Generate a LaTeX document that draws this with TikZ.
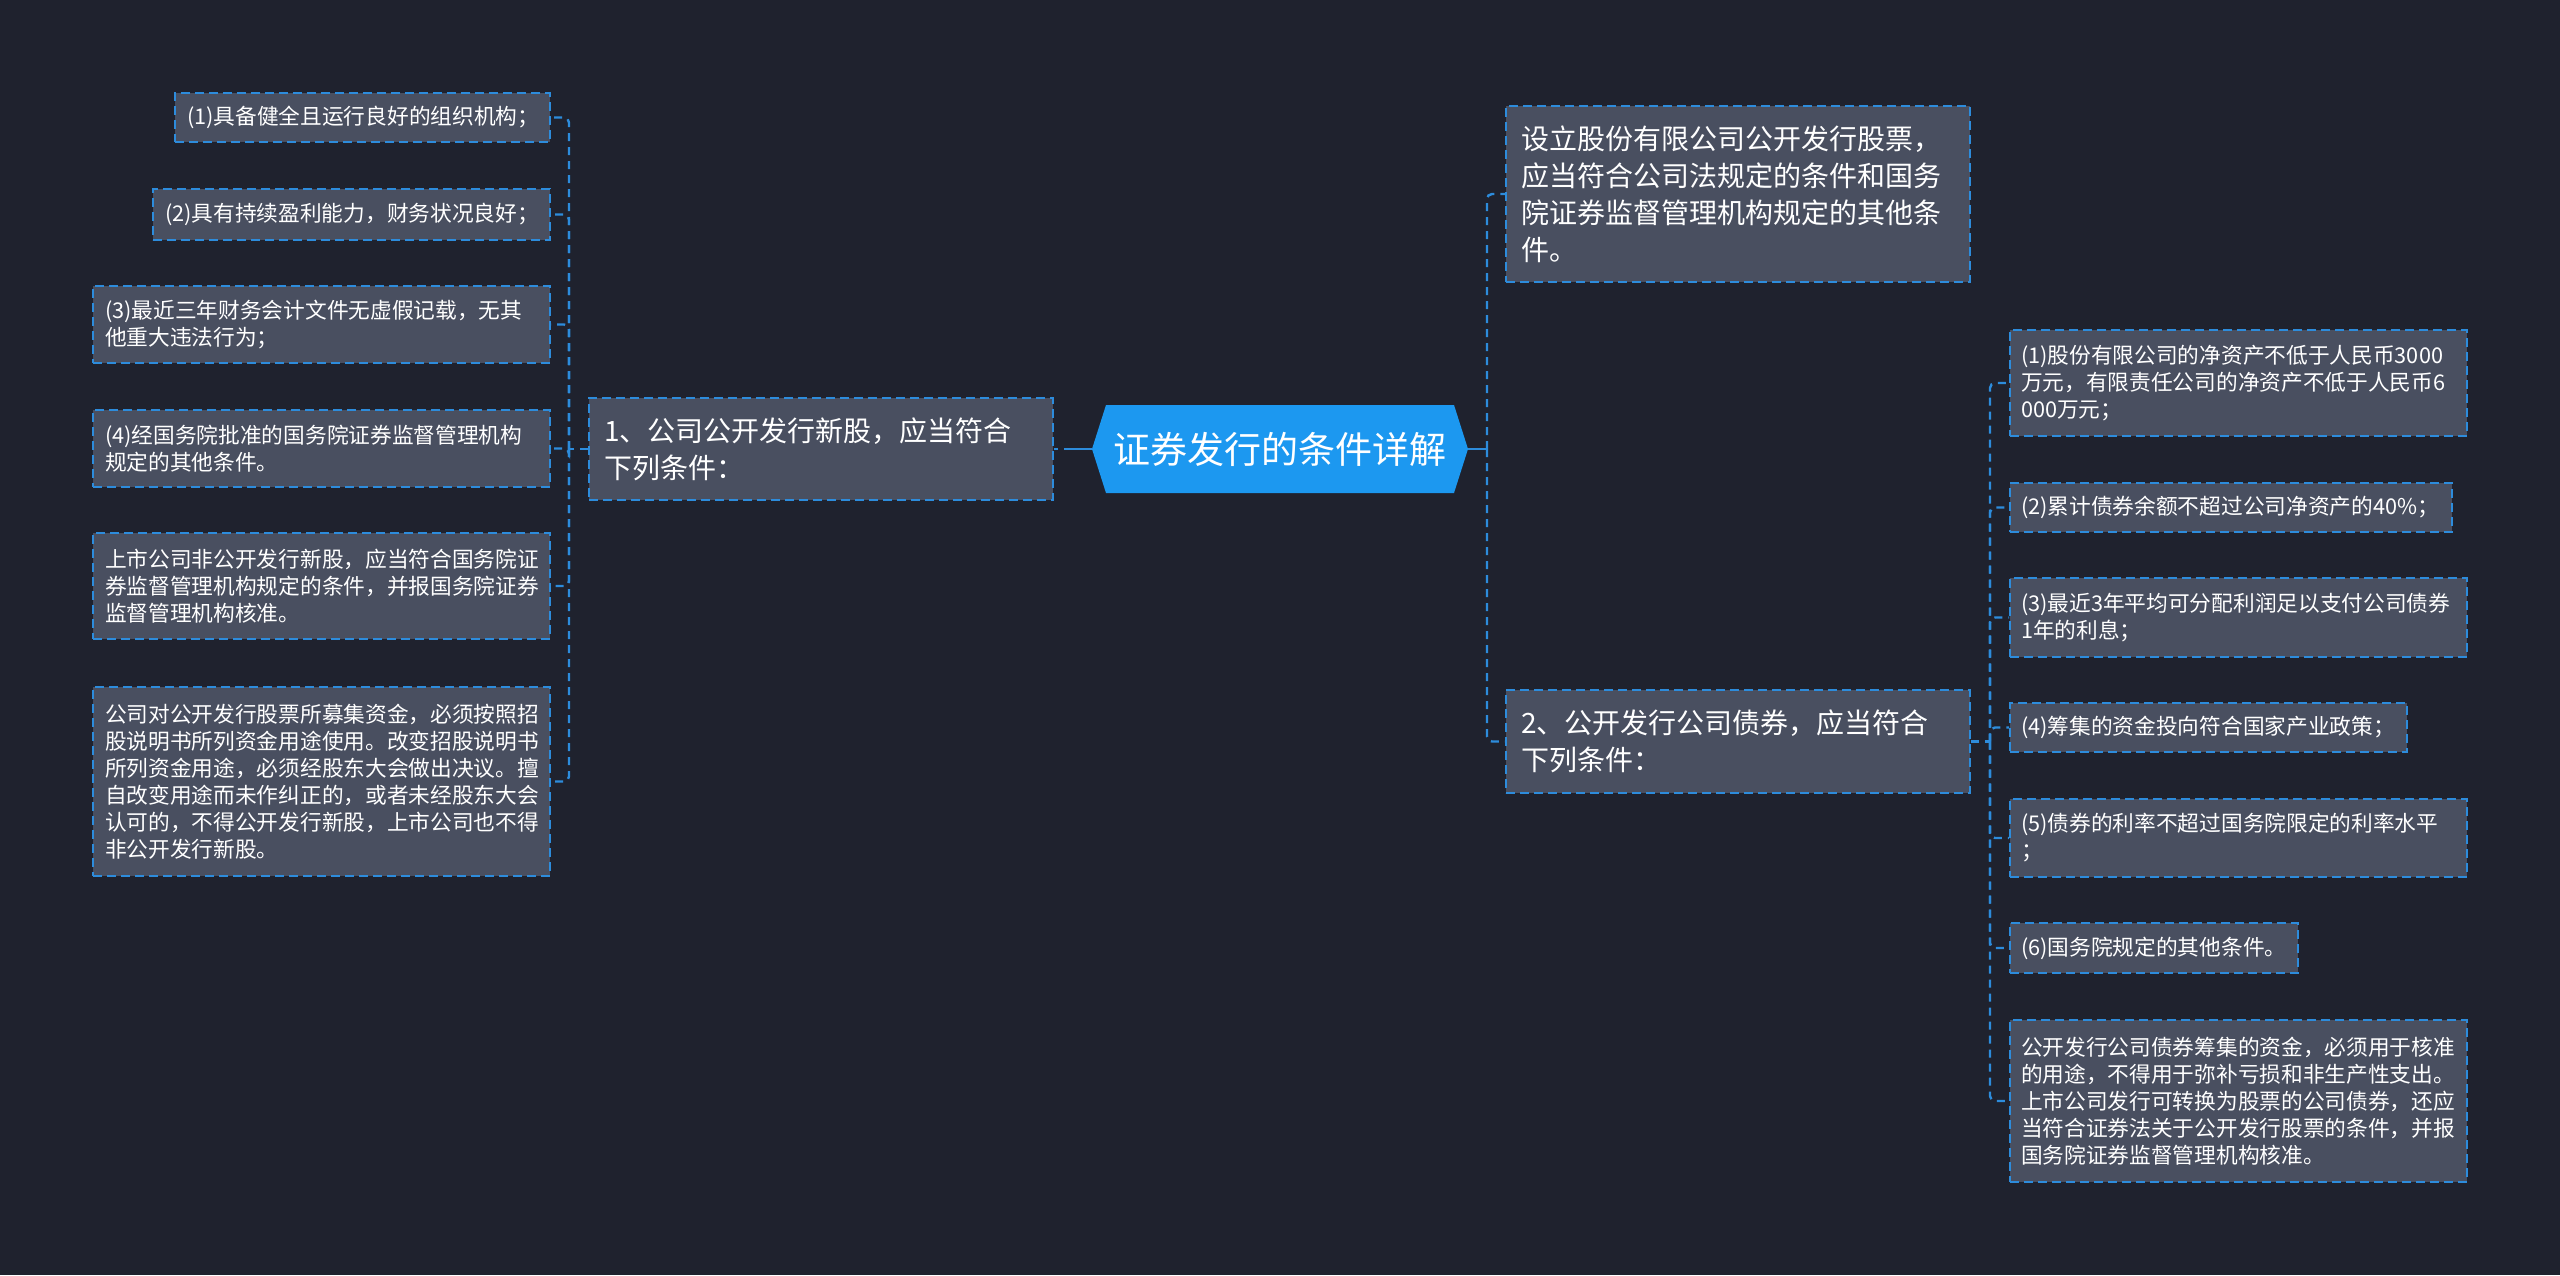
\documentclass[tikz,border=0pt]{standalone}
\usepackage{fontspec}
\setmainfont{Noto Sans CJK SC}
\definecolor{bg}{RGB}{31,34,46}
\definecolor{boxf}{RGB}{73,79,96}
\definecolor{linec}{RGB}{45,140,220}
\definecolor{mainf}{RGB}{28,152,240}
\tikzset{
  leafbox/.style={draw=linec, line width=1.8pt, dash pattern=on 9pt off 5pt, fill=boxf, text=white,
    align=left, inner xsep=12pt, inner ysep=0pt, font=\fontsize{21.7}{27}\selectfont, anchor=center},
  rleafbox/.style={leafbox, inner xsep=11pt},
  branchbox/.style={leafbox, inner xsep=15pt, font=\fontsize{28}{37}\selectfont},
  conn/.style={draw=linec, line width=2.4pt, dash pattern=on 8pt off 6pt, rounded corners=5pt},
  mainconn/.style={draw=linec, line width=2.6pt, dash pattern=on 28pt off 6pt}
}
\begin{document}
\begin{tikzpicture}[x=1pt,y=-1pt]
\useasboundingbox (0,0) rectangle (2560,1275);
\fill[bg] (0,0) rectangle (2560,1275);

% central topic
\fill[mainf] (1092,449) -- (1106,405) -- (1454,405) -- (1468,449) -- (1454,493) -- (1106,493) -- cycle;
\node[text=white, font=\fontsize{37}{40}\selectfont] (c) at (1280,449) {证券发行的条件详解};
\coordinate (cl) at (1092,449);
\coordinate (cr) at (1468,449);

% left branch
\node[branchbox, text width=434pt, minimum height=102pt] (LB) at (821,449) {1、公司公开发行新股，应当符合\\下列条件：};

\node[leafbox, text width=351pt, minimum height=49pt] (L1) at (362.5,117.5) {(1)具备健全且运行良好的组织机构；};
\node[leafbox, text width=373pt, minimum height=51pt] (L2) at (351.5,214.5) {(2)具有持续盈利能力，财务状况良好；};
\node[leafbox, text width=433pt, minimum height=77pt] (L3) at (321.5,324.5) {(3)最近三年财务会计文件无虚假记载，无其\\他重大违法行为；};
\node[leafbox, text width=433pt, minimum height=77pt] (L4) at (321.5,448.5) {(4)经国务院批准的国务院证券监督管理机构\\规定的其他条件。};
\node[leafbox, text width=433pt, minimum height=106pt] (L5) at (321.5,586) {上市公司非公开发行新股，应当符合国务院证\\券监督管理机构规定的条件，并报国务院证券\\监督管理机构核准。};
\node[leafbox, text width=433pt, minimum height=189pt] (L6) at (321.5,781.5) {公司对公开发行股票所募集资金，必须按照招\\股说明书所列资金用途使用。改变招股说明书\\所列资金用途，必须经股东大会做出决议。擅\\自改变用途而未作纠正的，或者未经股东大会\\认可的，不得公开发行新股，上市公司也不得\\非公开发行新股。};

% right branches
\node[branchbox, text width=434pt, minimum height=176pt] (R1) at (1738,194) {设立股份有限公司公开发行股票，\\应当符合公司法规定的条件和国务\\院证券监督管理机构规定的其他条\\件。};
\node[branchbox, text width=434pt, minimum height=103pt] (R2) at (1738,741.5) {2、公开发行公司债券，应当符合\\下列条件：};

\node[rleafbox, text width=435pt, minimum height=106pt] (RL1) at (2238.5,383) {(1)股份有限公司的净资产不低于人民币3000\\万元，有限责任公司的净资产不低于人民币6\\000万元；};
\node[rleafbox, text width=420pt, minimum height=49pt] (RL2) at (2231,507.5) {(2)累计债券余额不超过公司净资产的40\%；};
\node[rleafbox, text width=435pt, minimum height=79pt] (RL3) at (2238.5,617.5) {(3)最近3年平均可分配利润足以支付公司债券\\1年的利息；};
\node[rleafbox, text width=375pt, minimum height=49pt] (RL4) at (2208.5,727.5) {(4)筹集的资金投向符合国家产业政策；};
\node[rleafbox, text width=435pt, minimum height=78pt] (RL5) at (2238.5,838) {(5)债券的利率不超过国务院限定的利率水平\\；};
\node[rleafbox, text width=266pt, minimum height=50pt] (RL6) at (2154,948) {(6)国务院规定的其他条件。};
\node[rleafbox, text width=435pt, minimum height=162pt] (RL7) at (2238.5,1101) {公开发行公司债券筹集的资金，必须用于核准\\的用途，不得用于弥补亏损和非生产性支出。\\上市公司发行可转换为股票的公司债券，还应\\当符合证券法关于公开发行股票的条件，并报\\国务院证券监督管理机构核准。};

% connectors
\draw[mainconn] (cl) -- (LB.east);
\coordinate (jL) at (569,449);
\draw[conn] (LB.west) -- (jL);
\foreach \n in {L1,L2,L3,L4,L5,L6} \draw[conn] (jL) |- (\n.east);

\coordinate (jR) at (1487,449);
\draw[mainconn] (cr) -- (jR);
\draw[conn] (jR) |- (R1.west);
\draw[conn] (jR) |- (R2.west);

\coordinate (jR2) at (1990,741.5);
\draw[conn] (R2.east) -- (jR2);
\foreach \n in {RL1,RL2,RL3,RL4,RL5,RL6,RL7} \draw[conn] (jR2) |- (\n.west);
\end{tikzpicture}
\end{document}
